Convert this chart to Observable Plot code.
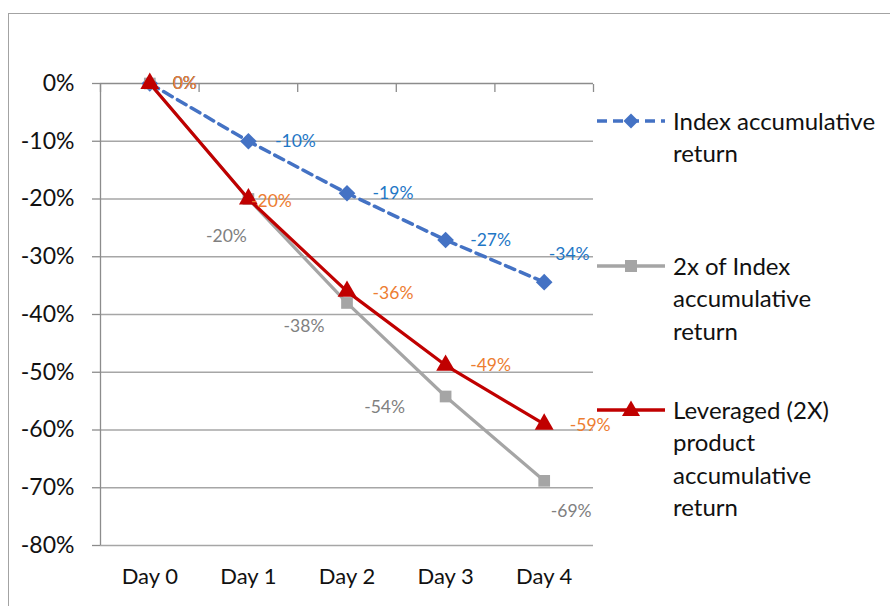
<!DOCTYPE html>
<html>
<head>
<meta charset="utf-8">
<script src="https://cdn.jsdelivr.net/npm/d3@7"></script>
<script src="https://cdn.jsdelivr.net/npm/@observablehq/plot@0.6"></script>
<style>
  html, body { margin: 0; padding: 0; background: #fff; }
  #wrap { position: relative; width: 890px; height: 606px; overflow: hidden; background: #fff; font-family: Lato, "Open Sans", sans-serif; }
  #frame { position: absolute; left: 8px; top: 13px; width: 1000px; height: 1000px; border: 1.5px solid #a3a3a3; box-sizing: border-box; }
  #chart { position: absolute; left: 0; top: 0; }
  .legend-item { position: absolute; left: 596px; display: flex; align-items: flex-start; }
  .legend-item svg { flex: none; }
  .legend-text { margin-left: 7px; font-size: 24px; line-height: 32.5px; color: #111; white-space: nowrap; }
</style>
</head>
<body>
<div id="wrap">
  <div id="frame"></div>
  <div id="chart"></div>
  <div id="legend"></div>
</div>
<script>
// ---- data ----
const days = ["Day 0", "Day 1", "Day 2", "Day 3", "Day 4"];
const indexReturn = [0, -10, -19, -27.1, -34.4];
const twoXIndexReturn = [0, -20, -38, -54.2, -68.8];
const leveragedReturn = [0, -20, -36, -48.8, -59.0];
const yTicks = [0, -10, -20, -30, -40, -50, -60, -70, -80];
const seriesNames = ["Index accumulative\nreturn", "2x of Index\naccumulative\nreturn", "Leveraged (2X)\nproduct\naccumulative\nreturn"];

// ---- layout (label nudges in px, not data) ----
const nudgeIndex = [[35, 0], [47, 0], [46, 0], [45, 0], [25, -28]];
const nudgeTwoX = [[35, 0], [-22, 37], [-43, 23], [-61, 11], [27, 31]];
const nudgeLev = [[35, 0], [23, 2], [46, 2], [45, 0], [46, 1]];

const toRows = (vals) => vals.map((v, i) => ({i, day: days[i], v}));
const rowsIndex = toRows(indexReturn);
const rowsTwoX = toRows(twoXIndexReturn);
const rowsLev = toRows(leveragedReturn);
const boundaries = days.map((d, i) => i - 0.5).concat([days.length - 0.5]);

const fmt = (v) => `${Math.round(v)}%`;
const labelMarks = (rows, nudges, fill) =>
  rows.map((r, k) => Plot.text([r], {
    x: "i", y: "v", text: (d) => fmt(d.v),
    dx: nudges[k][0], dy: nudges[k][1],
    textAnchor: "middle", fill, fontSize: 17.5
  }));

const colIndex = "#4472C4", colTwoX = "#A5A5A5", colLev = "#C00000";

const chart = Plot.plot({
  width: 890,
  height: 606,
  marginLeft: 100,
  marginRight: 297,
  marginTop: 83,
  marginBottom: 61,
  style: { fontFamily: "Lato, 'Open Sans', sans-serif", background: "transparent", overflow: "visible" },
  x: { type: "linear", domain: [-0.5, days.length - 0.5], label: null },
  y: { type: "linear", domain: [-80, 0], label: null },
  marks: [
    Plot.ruleY(yTicks.filter((d) => d !== 0), { stroke: "#a6a6a6", strokeWidth: 1.3 }),
    Plot.ruleY([0], { stroke: "#8c8c8c", strokeWidth: 1.3 }),
    Plot.ruleX([-0.5], { y1: -80, y2: 0, stroke: "#8c8c8c", strokeWidth: 1.3 }),
    Plot.axisX({ anchor: "top", ticks: boundaries, tickSize: 8, dy: 8, tickFormat: () => "", label: null, stroke: "#8c8c8c", strokeWidth: 1.3 }),
    Plot.axisX({ anchor: "bottom", ticks: days.map((d, i) => i), tickSize: 0, tickPadding: 23, tickFormat: (i) => days[i], label: null, fontSize: 22, fill: "#111" }),
    Plot.axisY({ anchor: "left", ticks: yTicks, tickSize: 8, tickPadding: 18, tickFormat: (d) => `${d}%`, label: null, fontSize: 23, stroke: "#8c8c8c", strokeWidth: 1.3, fill: "#111" }),
    // Index
    Plot.line(rowsIndex, { x: "i", y: "v", stroke: colIndex, strokeWidth: 3.5, strokeDasharray: "10,6" }),
    Plot.dot(rowsIndex, { x: "i", y: "v", symbol: "diamond2", r: 7.5, fill: colIndex, stroke: "none" }),
    // 2x of Index
    Plot.line(rowsTwoX, { x: "i", y: "v", stroke: colTwoX, strokeWidth: 3.2 }),
    Plot.dot(rowsTwoX, { x: "i", y: "v", symbol: "square", r: 6.6, fill: colTwoX, stroke: "none" }),
    // Leveraged
    Plot.line(rowsLev, { x: "i", y: "v", stroke: colLev, strokeWidth: 3.2 }),
    Plot.dot(rowsLev, { x: "i", y: "v", symbol: "triangle", r: 7, fill: colLev, stroke: "none" }),
    // data labels
    ...labelMarks(rowsIndex, nudgeIndex, "#1F77C6"),
    ...labelMarks(rowsTwoX, nudgeTwoX, "#808080"),
    ...labelMarks(rowsLev, nudgeLev, "#ED7D31")
  ]
});
document.getElementById("chart").appendChild(chart);

// ---- legend ----
const legendItems = [
  { name: seriesNames[0], color: colIndex, dash: "10,6", symbol: "diamond", top: 121 },
  { name: seriesNames[1], color: colTwoX, dash: null, symbol: "square", top: 266 },
  { name: seriesNames[2], color: colLev, dash: null, symbol: "triangle", top: 410 }
];
const legend = document.getElementById("legend");
for (const it of legendItems) {
  const item = document.createElement("div");
  item.className = "legend-item";
  item.style.top = (it.top - 16.25) + "px";
  let marker = "";
  if (it.symbol === "diamond") marker = `<path d="M35,8.5 L42.5,16 L35,23.5 L27.5,16 Z" fill="${it.color}"/>`;
  if (it.symbol === "square") marker = `<rect x="29" y="10" width="12" height="12" fill="${it.color}"/>`;
  if (it.symbol === "triangle") marker = `<path d="M35,6.5 L44,22 L26,22 Z" fill="${it.color}"/>`;
  item.innerHTML = `<svg width="70" height="32.5" viewBox="0 0 70 32.5">
      <line x1="1" x2="69" y1="16" y2="16" stroke="${it.color}" stroke-width="3.3" ${it.dash ? `stroke-dasharray="${it.dash}"` : ""}/>
      ${marker}
    </svg>
    <div class="legend-text">${it.name.split("\n").join("<br>")}</div>`;
  legend.appendChild(item);
}
</script>
</body>
</html>
